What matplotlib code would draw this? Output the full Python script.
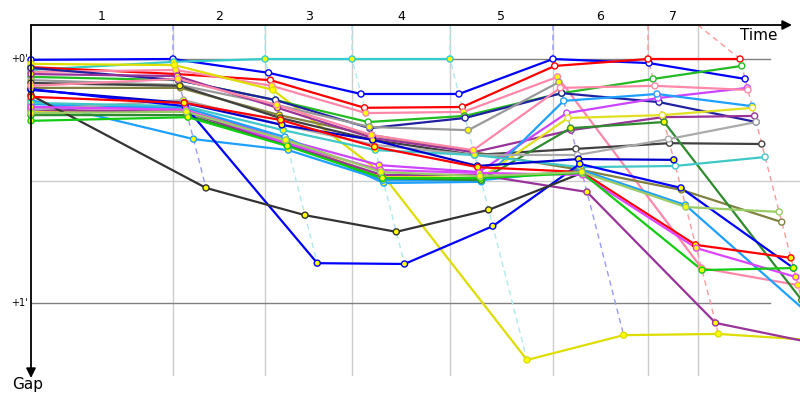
import matplotlib
matplotlib.use("Agg")
import matplotlib.pyplot as plt
import matplotlib.colors as mcolors
import numpy as np

# leader crossing times (s) for timing points 1..6 and the final point
CHECK_TIMES = [136.4, 224.8, 308.4, 402.5, 501.4, 592.7, 681.1]
# vertical grid lines (s)
GRID_TIMES = [136.4, 224.8, 308.4, 402.5, 501.4, 592.7, 640.7]
COLUMN_LABELS = ["1", "2", "3", "4", "5", "6", "7"]

# gaps to leader (s): start, 1..6, final  (None = no data)
drivers = [
    "blue_top", "cyan", "red", "pink_a", "yellow", "green", "navy", "grey1",
    "olive", "darkgrey", "purple", "violet", "lightblue", "lightblue2",
    "yellow2", "darkgreen", "purple2", "grey2", "teal", "navy2", "blue_low",
    "black", "red2", "magenta", "green2", "lightgreen", "pink_b",
]
gaps = [
    [0.2, 0.0, 3.4, 8.6, 8.6, 0.0, 1.0, 4.9],
    [2.7, 0.7, 0.0, 0.0, 0.0, None, None, None],
    [2.0, 3.7, 5.2, 12.0, 11.8, 1.7, 0.0, 0.0],
    [3.2, 2.7, 6.6, 13.3, 13.0, 4.4, 51.4, 55.6],
    [1.2, 1.5, 7.6, 28.0, 74.0, 67.9, 67.6, 69.1],
    [4.4, 5.2, 10.1, 15.5, 14.0, 8.4, 4.9, 1.7],
    [2.2, 5.2, 10.1, 17.0, 14.5, 8.4, 10.6, 15.5],
    [5.2, 6.4, 11.3, 16.7, 17.5, 5.7, None, None],
    [7.1, 7.1, 13.8, 18.7, 22.9, 27.3, 32.2, 40.1],
    [5.9, 6.6, 14.5, 19.9, 23.6, 22.1, 20.7, 20.9],
    [3.7, 4.2, 12.0, 19.4, 22.9, 17.5, 14.3, 14.0],
    [11.8, 12.0, 19.9, 26.1, 27.8, 13.3, 9.6, 7.1],
    [11.1, 12.0, 19.2, 30.5, 30.2, 10.3, 8.6, 11.6],
    [10.1, 19.7, 22.4, 29.8, 29.8, 27.3, 35.9, 61.7],
    [13.0, 12.5, 20.4, 28.8, 29.3, 14.5, 13.8, 12.0],
    [13.8, 13.8, 21.1, 29.3, 29.8, 17.0, 15.5, 59.3],
    [12.5, 13.0, 21.1, 28.5, 28.5, 32.7, 64.9, 69.8],
    [12.5, 10.1, 16.2, 21.1, 23.6, 23.6, 19.7, 15.5],
    [10.8, 11.6, 17.5, 22.4, 23.6, 26.6, 26.3, 24.1],
    [7.6, 10.8, 16.2, 19.9, 26.3, 24.6, 24.8, None],
    [7.4, 11.6, 50.2, 50.4, 41.1, 25.8, 31.7, 51.4],
    [8.9, 31.7, 38.4, 42.5, 37.1, 28.0, None, None],
    [9.3, 10.8, 15.0, 21.6, 26.6, 27.8, 45.7, 48.9],
    [11.8, 12.5, 20.7, 27.3, 28.0, 28.5, 46.5, 53.6],
    [15.2, 14.3, 21.4, 29.3, 29.3, 28.0, 51.9, 51.4],
    [13.3, 13.0, 19.9, 27.8, 28.8, 27.8, 36.4, 37.6],
    [6.6, 4.9, 11.3, 18.7, 22.4, 7.1, 6.6, 7.6],
]
# marker fill per point: y = yellow, w = white
fills = [
    "wwwwwwww", "yyyyy", "ywwwwwww", "yyyyyyyy", "yyyyyyyy", "yywwywww",
    "yywwwwww", "yyyyyy", "yyyyyyyw", "yyyyywww", "yyyyywww", "yyyyywww",
    "yywyywww", "yyyyyyyy", "yyyyywww", "yyyyyyyy", "yyyyyyyy", "yyyyywww",
    "yyyyyyww", "yyyyyyy", "yyyyyyyy", "yyyyyy", "yyyyyyyy", "yyyyyyyy",
    "yyyyyyyy", "yyyyyyyw", "yyyyywww",
]
colors = {
    "blue_top": "#0000ff", "cyan": "#33cccc", "red": "#ff0000", "pink_a": "#ff88aa",
    "yellow": "#dddd00", "green": "#22bb22", "navy": "#2020a0", "grey1": "#999999",
    "olive": "#808040", "darkgrey": "#404040", "purple": "#993399", "violet": "#cc44ff",
    "lightblue": "#1ea0ff", "lightblue2": "#1ea0ff", "yellow2": "#e0e020",
    "darkgreen": "#2e8b2e", "purple2": "#993399", "grey2": "#aaaaaa", "teal": "#40c8c8",
    "navy2": "#0000cc", "blue_low": "#0000ff", "black": "#333333", "red2": "#ff0000",
    "magenta": "#dd44ff", "green2": "#11cc11", "lightgreen": "#99cc66", "pink_b": "#ff88aa",
}
FILL = {"y": "#ffff00", "w": "white"}

# pixel mapping: x_px = 31 + t*1.041 ; y_px = 59 + g*4.067
XS, YS = 1.041, 4.067
def tx(px):
    return (px - 31) / XS
def gy(py):
    return (py - 59) / YS

TOP = gy(25)
BOTTOM = gy(375)

fig = plt.figure(figsize=(8, 4), dpi=100)
ax = fig.add_axes([0, 0, 1, 1])
ax.set_xlim(tx(0), tx(800))
ax.set_ylim(gy(400), gy(0))
ax.axis("off")

# grid
for t in GRID_TIMES:
    ax.plot([t, t], [TOP, BOTTOM], color="#cccccc", lw=1, zorder=1)
ax.plot([0, tx(770)], [0, 0], color="#808080", lw=1, zorder=1)
ax.plot([0, tx(800)], [30, 30], color="#cccccc", lw=1, zorder=1)
ax.plot([0, tx(770)], [60, 60], color="#808080", lw=1, zorder=1)

# column labels
edges = [0] + GRID_TIMES
for i, lab in enumerate(COLUMN_LABELS):
    ax.text((edges[i] + edges[i + 1]) / 2, gy(17), lab, ha="center", va="center",
            fontsize=9)

# dashed lines joining each timing point, coloured after its leader
for k in range(1, 8):
    pts = [(g[k], i) for i, g in enumerate(gaps) if len(g) > k and g[k] is not None]
    pts.sort()
    lead = drivers[pts[0][1]]
    c = np.array(mcolors.to_rgb(colors[lead]))
    c = 0.4 * c + 0.6 * np.ones(3)
    xs = [GRID_TIMES[k - 1]] + [CHECK_TIMES[k - 1] + p[0] for p in pts]
    ys = [TOP] + [p[0] for p in pts]
    ax.plot(xs, ys, color=c, lw=1, ls=(0, (4, 3)), zorder=2)

# driver lines
for name, g, f in zip(drivers, gaps, fills):
    xs, ys, fc = [], [], []
    for k, v in enumerate(g):
        if v is None:
            continue
        xs.append(0 if k == 0 else CHECK_TIMES[k - 1] + v)
        ys.append(v)
        fc.append(FILL[f[k]])
    ax.plot(xs, ys, color=colors[name], lw=1.6, zorder=3, solid_joinstyle="round")
    ax.scatter(xs, ys, s=19, facecolors=fc, edgecolors=colors[name], linewidths=1.0,
               zorder=4, clip_on=True)

# axes with arrows
ax.annotate("", xy=(tx(792), TOP), xytext=(0, TOP),
            arrowprops=dict(arrowstyle="-|>", color="black", lw=1.3,
                            mutation_scale=14, shrinkA=0, shrinkB=0), zorder=5)
ax.annotate("", xy=(0, gy(378)), xytext=(0, TOP),
            arrowprops=dict(arrowstyle="-|>", color="black", lw=1.3,
                            mutation_scale=14, shrinkA=0, shrinkB=0), zorder=5)
ax.text(tx(778), gy(35), "Time", ha="right", va="center", fontsize=11)
ax.text(tx(12), gy(385), "Gap", ha="left", va="center", fontsize=11)
ax.text(tx(28), 0, "+0'", ha="right", va="center", fontsize=7)
ax.text(tx(28), 60, "+1'", ha="right", va="center", fontsize=7)

fig.savefig("out.png", dpi=100)
